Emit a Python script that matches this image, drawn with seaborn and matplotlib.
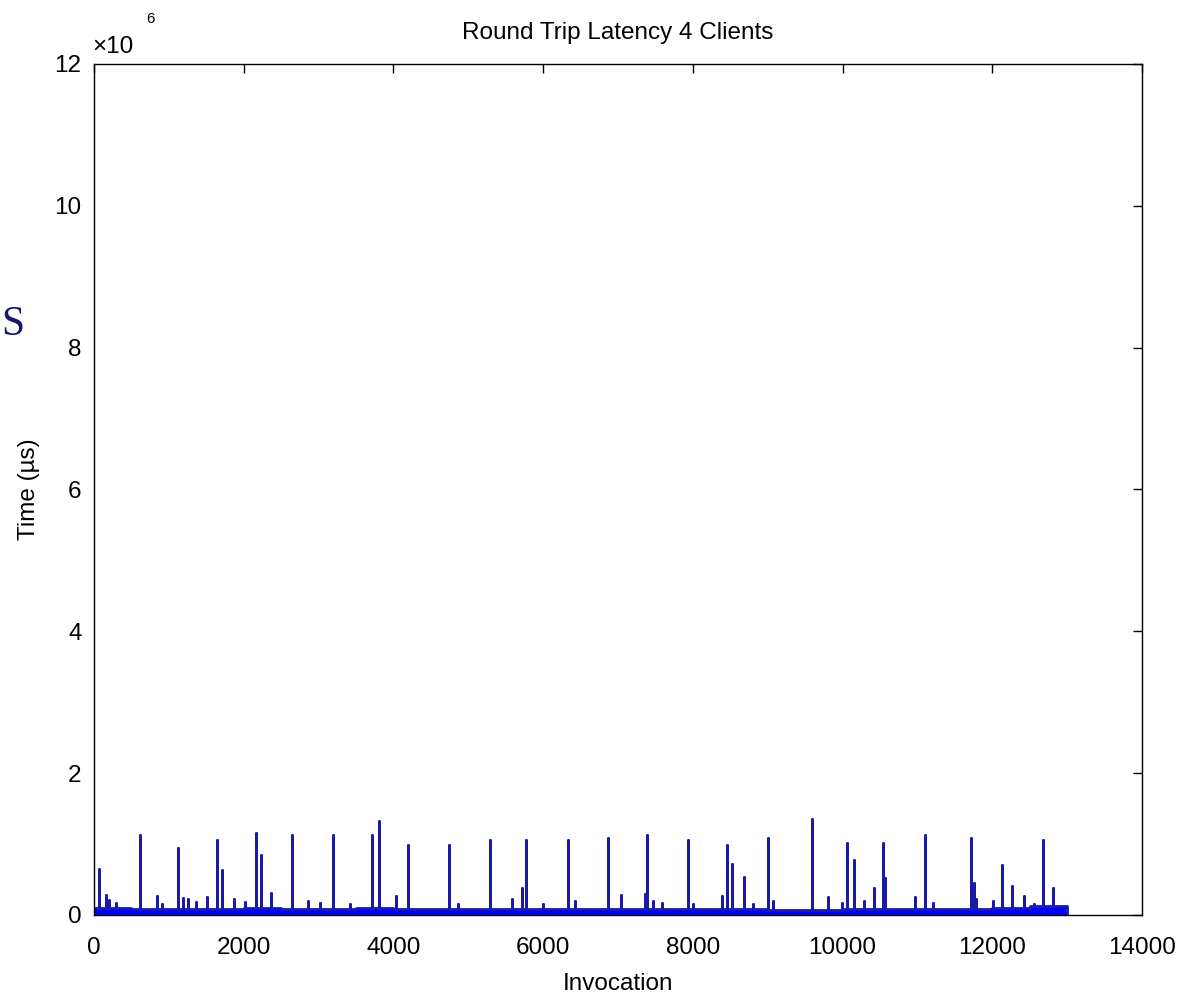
import numpy as np
import pandas as pd
import matplotlib
matplotlib.use("Agg")
import matplotlib.pyplot as plt
import seaborn as sns

# ---------------- data (time in units of 10^6 microseconds) ----------------
title = "Round Trip Latency 4 Clients"
x_label = "Invocation"
y_label = "Time (\u00b5s)"
x_ticks = [0, 2000, 4000, 6000, 8000, 10000, 12000, 14000]
y_ticks = [0, 2, 4, 6, 8, 10, 12]

# baseline band level per block of 500 invocations (0 .. 13000)
block_edges = list(range(0, 13001, 500))
band_top = [0.10, 0.08, 0.08, 0.09, 0.10, 0.09, 0.09, 0.10, 0.09, 0.08,
            0.08, 0.09, 0.08, 0.08, 0.09, 0.08, 0.08, 0.08, 0.07, 0.07,
            0.08, 0.09, 0.08, 0.09, 0.10, 0.13]

# large latency spikes
spike_x = [67, 614, 1126, 1648, 1714, 2164, 2227, 2641, 3198, 3710,
           3803, 4190, 4743, 5290, 5714, 5776, 6328, 6871, 7036, 7384,
           7940, 8386, 8452, 8519, 8684, 9009, 9589, 10065, 10158, 10421,
           10546, 10568, 11102, 11712, 11750, 12126, 12260, 12424, 12683, 12817]
spike_y = [0.65, 1.13, 0.95, 1.06, 0.64, 1.16, 0.85, 1.13, 1.13, 1.13,
           1.33, 0.99, 0.99, 1.06, 0.38, 1.06, 1.06, 1.09, 0.28, 1.13,
           1.06, 0.27, 0.99, 0.72, 0.54, 1.09, 1.36, 1.02, 0.78, 0.38,
           1.02, 0.52, 1.13, 1.09, 0.45, 0.71, 0.41, 0.27, 1.06, 0.38]

# small bumps above the baseline band
bump_x = [160, 200, 294, 837, 904, 1193, 1260, 1363, 1514, 1870,
          2017, 2360, 2863, 3019, 3420, 4034, 4863, 5580, 6003, 6426,
          7361, 7472, 7584, 8007, 8808, 9076, 9810, 9988, 10291, 10970,
          11205, 11730, 11780, 12006, 12560]
bump_y = [0.28, 0.21, 0.17, 0.27, 0.15, 0.24, 0.22, 0.18, 0.26, 0.22,
          0.18, 0.31, 0.20, 0.17, 0.15, 0.27, 0.16, 0.22, 0.15, 0.20,
          0.30, 0.20, 0.17, 0.15, 0.15, 0.20, 0.25, 0.17, 0.20, 0.25,
          0.17, 0.30, 0.22, 0.20, 0.15]

# ---------------- build line path ----------------
events = sorted(zip(spike_x + bump_x, spike_y + bump_y))
xs, ys = [], []
for i, b in enumerate(band_top):
    lo, hi = block_edges[i], block_edges[i + 1]
    xs.append(lo); ys.append(b)
    for ex, ey in events:
        if lo <= ex < hi:
            xs += [ex, ex, ex]
            ys += [b, ey, b]
    xs.append(hi); ys.append(b)
xs.append(block_edges[-1]); ys.append(0)
df = pd.DataFrame({"Invocation": xs, "Time": ys})

# ---------------- plot ----------------
sns.set_theme(style="white")
plt.rcParams['font.family'] = ['Liberation Sans', 'DejaVu Sans']
plt.rcParams['text.color'] = 'black'
plt.rcParams['axes.labelcolor'] = 'black'
FS = 17.5

fig = plt.figure(figsize=(11.9, 9.98), dpi=100)
ax = fig.add_axes([0.079, 0.0832, 0.8807, 0.8527])

ax.fill_between(block_edges, 0, band_top + [band_top[-1]], step="post",
                color="#0000ff", lw=0)
sns.lineplot(data=df, x="Invocation", y="Time", estimator=None, sort=False,
             color="#1a1aa8", lw=2.0, ax=ax)

ax.set_xlim(0, 14000)
ax.set_ylim(0, 12)
ax.set_xticks(x_ticks)
ax.set_yticks(y_ticks)
ax.set_xticklabels([str(t) for t in x_ticks])
ax.set_yticklabels([str(t) for t in y_ticks])
ax.tick_params(direction="in", length=6.5, width=1, top=True, right=True,
               labelsize=FS, colors="black")
ax.tick_params(axis="x", pad=16)
ax.tick_params(axis="y", pad=9)
for s in ax.spines.values():
    s.set_color("black")
    s.set_linewidth(1.0)

ax.set_title(title, fontsize=FS, pad=18, color="black")
ax.set_xlabel(x_label, fontsize=FS, labelpad=10)
ax.set_ylabel(y_label, fontsize=FS)
ax.yaxis.set_label_coords(-0.052, 0.5)

# exponent multiplier
fig.text(92 / 1190, 1 - 53 / 998, "\u00d710", fontsize=FS, ha="left", va="baseline")
fig.text(146 / 1190, 1 - 23 / 998, "6", fontsize=11, ha="left", va="baseline")

# serif letter at the left edge
fig.text(1 / 1190, 1 - 335 / 998, "S", fontsize=30, family="Liberation Serif",
         color="#16166a", ha="left", va="baseline")

fig.savefig("out.png", dpi=100)
